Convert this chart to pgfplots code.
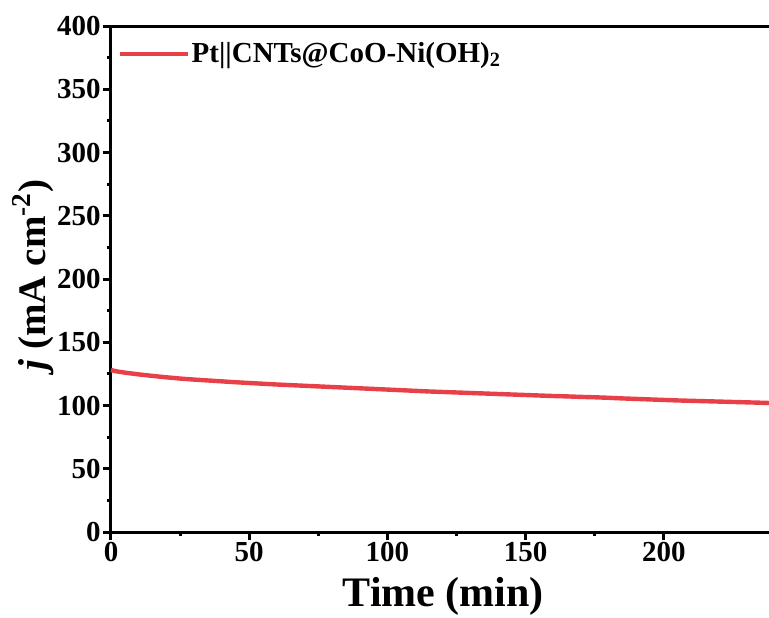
\documentclass[border=0pt]{standalone}
\usepackage{pgfplots}
\pgfplotsset{compat=1.18}
\usepackage{fontspec}
\setmainfont{Liberation Serif}
\definecolor{curvered}{RGB}{232,64,72}

\pgfplotstableread{
t j
0 128
2 127
5 126
10 124.6
15 123.4
20 122.3
25 121.3
30 120.5
35 119.8
40 119.1
45 118.4
50 117.8
55 117.2
60 116.6
65 116.1
70 115.6
75 115.1
80 114.6
85 114.1
90 113.6
95 113.1
100 112.6
105 112.1
110 111.6
115 111.1
120 110.7
125 110.3
130 109.9
135 109.5
140 109.1
145 108.7
150 108.3
155 107.9
160 107.5
165 107.2
170 106.8
175 106.5
180 106.1
185 105.6
190 105.2
195 104.8
200 104.4
205 104.0
210 103.7
215 103.4
220 103.1
225 102.8
230 102.5
235 102.2
238 102.0
}\chrono

\begin{document}
\begin{tikzpicture}
% fixed page area around the 329pt x 253pt plot box
\useasboundingbox (-55.5pt,-42.5pt) rectangle (329pt,266pt);
\begin{axis}[
  at={(0pt,0pt)}, anchor=south west,
  scale only axis,
  width=329pt, height=253pt,
  xmin=0, xmax=238, ymin=0, ymax=400,
  axis x line*=box, axis y line*=left,
  axis line style={line width=1.5pt, black},
  xtick={0,50,100,150,200}, ytick={0,50,...,400},
  minor x tick num=1, minor y tick num=1,
  xtick pos=bottom, ytick pos=left,
  tick align=outside,
  major tick length=4pt, minor tick length=2.2pt,
  every tick/.style={line width=1.5pt, black},
  /pgf/number format/assume math mode=true,
  tick label style={font=\bfseries\fontsize{14.5}{16}\selectfont},
  xticklabel style={inner sep=1pt},
  yticklabel style={inner sep=1pt},
  xlabel={Time (min)},
  ylabel={\textit{j} (mA cm\textsuperscript{-2})},
  every axis x label/.style={at={(axis description cs:0.505,-0.148)}, anchor=base,
    font=\bfseries\fontsize{21}{23}\selectfont},
  every axis y label/.style={at={(axis description cs:-0.119,0.508)}, anchor=center, rotate=90,
    font=\bfseries\fontsize{19.5}{22}\selectfont},
  legend style={draw=none, fill=none, at={(axis description cs:0.009,0.945)}, anchor=west,
    inner sep=0pt, nodes={inner sep=1pt},
    font=\bfseries\fontsize{14.5}{16}\selectfont},
  legend image code/.code={\draw[#1] (0pt,0pt) -- (34pt,0pt);},
  clip=false,
]
\addplot[curvered, line width=2.2pt] table[x=t, y=j] {\chrono};
\addlegendentry{Pt||CNTs@CoO-Ni(OH)\textsubscript{2}}
\end{axis}
\end{tikzpicture}
\end{document}
